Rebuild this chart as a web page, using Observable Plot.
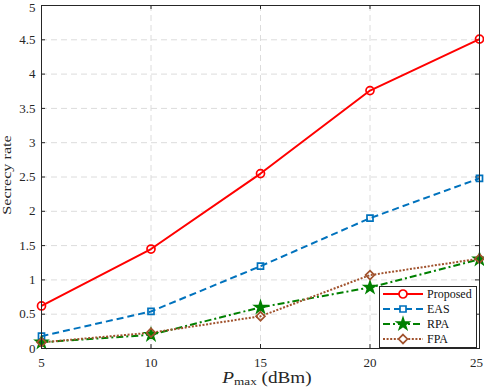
<!DOCTYPE html>
<html>
<head>
<meta charset="utf-8">
<script src="https://cdn.jsdelivr.net/npm/d3@7"></script>
<script src="https://cdn.jsdelivr.net/npm/@observablehq/plot@0.6"></script>
<style>
  body { margin: 0; background: #fff; }
  #wrap { position: relative; width: 484px; height: 388px; font-family: 'Liberation Serif', 'Times New Roman', serif; }
  #legend { position: absolute; left: 379px; top: 286px; }
  svg text { font-family: 'Liberation Serif', 'Times New Roman', serif; }
</style>
</head>
<body>
<div id="wrap"></div>
<script>
const xs = [5, 10, 15, 20, 25];
const proposed = [0.62, 1.45, 2.55, 3.76, 4.51];
const eas = [0.18, 0.54, 1.20, 1.90, 2.48];
const rpa = [0.09, 0.20, 0.60, 0.89, 1.30];
const fpa = [0.09, 0.23, 0.47, 1.07, 1.31];
const seriesNames = ["Proposed", "EAS", "RPA", "FPA"];
const xTicks = [5, 10, 15, 20, 25];
const yTicks = [0, 0.5, 1, 1.5, 2, 2.5, 3, 3.5, 4, 4.5, 5];

const FONT = "'Liberation Serif', 'Times New Roman', serif";

const styles = {
  Proposed: {color: "#ff0000", dash: null, symbol: "circle", r: 4, fill: "none", width: 2},
  EAS: {color: "#0072BD", dash: "7,4", symbol: "square", r: 3.4, fill: "none", width: 2},
  RPA: {color: "#008000", dash: "7,3,2,3", symbol: "star", r: 3.6, fill: "#008000", width: 2},
  FPA: {color: "#A0522D", dash: "2,1.6", symbol: "diamond2", r: 4, fill: "none", width: 2}
};

const values = {Proposed: proposed, EAS: eas, RPA: rpa, FPA: fpa};
const rows = seriesNames.flatMap(s => xs.map((x, i) => ({series: s, x, y: values[s][i]})));

const W = 484, H = 388, mL = 41, mR = 5, mT = 5, mB = 40;
const pw = W - mL - mR, ph = H - mT - mB;

const lineMarks = seriesNames.map(s => {
  const st = styles[s];
  const d = rows.filter(r => r.series === s);
  return Plot.line(d, {x: "x", y: "y", stroke: st.color, strokeWidth: st.width, strokeLinecap: "butt", strokeDasharray: st.dash ?? undefined});
});
const dotMarks = seriesNames.map(s => {
  const st = styles[s];
  const d = rows.filter(r => r.series === s);
  return Plot.dot(d, {x: "x", y: "y", symbol: st.symbol, r: st.r, stroke: st.color, fill: st.fill, strokeWidth: 1.7});
});

const gridStyle = {stroke: "#dcdcdc", strokeOpacity: 1, strokeDasharray: "6,4"};

const chart = Plot.plot({
  width: W, height: H,
  marginLeft: mL, marginRight: mR, marginTop: mT, marginBottom: mB,
  style: {fontFamily: FONT, fontSize: "13px", color: "#262626", background: "#fff"},
  x: {domain: [5, 25], label: null},
  y: {domain: [0, 5], label: null},
  marks: [
    Plot.gridX(xTicks.slice(1, -1), gridStyle),
    Plot.gridY(yTicks.slice(1, -1), gridStyle),
    Plot.tickY(yTicks, {y: d => d, stroke: "#262626", insetRight: pw - 4}),
    Plot.tickY(yTicks, {y: d => d, stroke: "#262626", insetLeft: pw - 4}),
    Plot.tickX(xTicks, {x: d => d, stroke: "#262626", insetTop: ph - 4}),
    Plot.tickX(xTicks, {x: d => d, stroke: "#262626", insetBottom: ph - 4}),
    Plot.axisX(xTicks.slice(0, -1), {tickSize: 0, tickPadding: 9, fontSize: 13, label: null}),
    Plot.axisX(xTicks.slice(-1), {tickSize: 0, tickPadding: 9, fontSize: 13, label: null, dx: -3}),
    Plot.axisY(yTicks.slice(0, -1), {tickSize: 0, tickPadding: 6, fontSize: 13, label: null, tickFormat: d => String(d)}),
    Plot.axisY(yTicks.slice(-1), {tickSize: 0, tickPadding: 6, fontSize: 13, label: null, dy: 2.5, tickFormat: d => String(d)}),
    ...lineMarks,
    ...dotMarks,
    Plot.frame({stroke: "#262626", strokeWidth: 1})
  ]
});

const wrap = document.getElementById("wrap");
wrap.appendChild(chart);

const svg = d3.select(chart);
// y label
svg.append("text")
  .attr("transform", `translate(10.5,175) rotate(-90) scale(1.2,1)`)
  .attr("text-anchor", "middle")
  .attr("font-size", 13.5)
  .attr("fill", "#262626")
  .style("font-family", FONT)
  .text("Secrecy rate");
// x label
const xl = svg.append("text")
  .attr("transform", `translate(267,383) scale(1.2,1)`)
  .attr("text-anchor", "middle")
  .attr("font-size", 16)
  .attr("fill", "#262626")
  .style("font-family", FONT);
xl.append("tspan").attr("font-style", "italic").text("P");
xl.append("tspan").attr("font-size", 11).attr("dy", 2).text("max");
xl.append("tspan").attr("dy", -2).text(" (dBm)");

// legend
const lw = 98, lh = 62;
const lg = d3.select(wrap).append("svg").attr("id", "legend").attr("width", lw).attr("height", lh);
lg.append("rect").attr("x", 0.5).attr("y", 0.5).attr("width", lw - 1).attr("height", lh - 1)
  .attr("fill", "#fff").attr("stroke", "#262626").attr("stroke-width", 1);
const symMap = {circle: d3.symbolCircle, square: d3.symbolSquare, star: d3.symbolStar, diamond2: d3.symbolDiamond2};
seriesNames.forEach((s, i) => {
  const st = styles[s];
  const cy = 8 + i * 15;
  const g = lg.append("g");
  g.append("line").attr("x1", 4).attr("x2", 44).attr("y1", cy).attr("y2", cy)
    .attr("stroke", st.color).attr("stroke-width", st.width)
    .attr("stroke-dasharray", st.dash);
  g.append("path").attr("transform", `translate(24,${cy})`)
    .attr("d", d3.symbol(symMap[st.symbol], Math.PI * st.r * st.r)())
    .attr("fill", st.fill === "none" ? "#fff" : st.fill).attr("stroke", st.color).attr("stroke-width", 1.7);
  g.append("text").attr("x", 48).attr("y", cy + 4).attr("font-size", 12)
    .style("font-family", FONT).attr("fill", "#111").text(s);
});
</script>
</body>
</html>
